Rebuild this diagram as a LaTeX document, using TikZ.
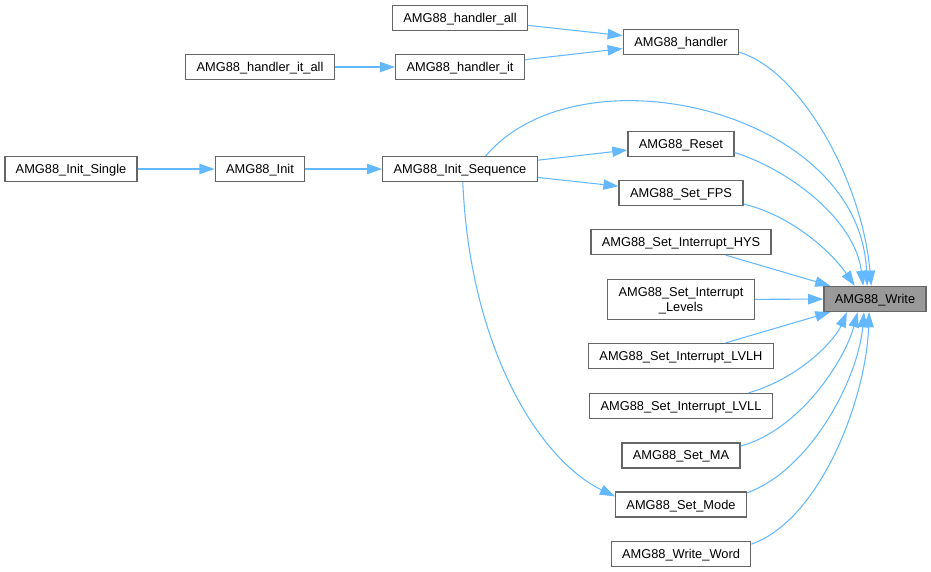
\documentclass[tikz,border=0pt]{standalone}
\usepackage{fontspec}
\setmainfont{Liberation Sans}
\usetikzlibrary{arrows.meta}
\definecolor{edgeblue}{HTML}{63B8FF}
\definecolor{boxgray}{HTML}{666666}
\definecolor{hitgray}{HTML}{999999}

\begin{document}
\begin{tikzpicture}[
  x=0.02cm, y=-0.02cm,
  >={Triangle[length=8.6pt,width=5.9pt]},
  fn/.style={draw=boxgray, fill=white, line width=0.75pt, inner xsep=6.2pt, inner ysep=0pt,
    minimum height=14.2pt, text depth=0pt, font=\fontsize{7.3}{8.5}\selectfont, align=center},
  target/.style={fn, fill=hitgray},
  call/.style={->, draw=edgeblue, line width=0.6pt}
  ]
\useasboundingbox (0,0) rectangle (931,572);
\node [fn] (hall) at (460,18) {AMG88\_handler\_all};
\node [fn] (handler) at (681,42) {AMG88\_handler};
\node [fn] (hitall) at (260,67) {AMG88\_handler\_it\_all};
\node [fn] (hit) at (460,67) {AMG88\_handler\_it};
\node [fn] (single) at (71,169) {AMG88\_Init\_Single};
\node [fn] (init) at (260,169) {AMG88\_Init};
\node [fn] (seq) at (460,169) {AMG88\_Init\_Sequence};
\node [fn] (reset) at (681,144) {AMG88\_Reset};
\node [fn] (fps) at (681,193) {AMG88\_Set\_FPS};
\node [fn] (hys) at (681,242) {AMG88\_Set\_Interrupt\_HYS};
\node [fn, minimum height=22.7pt] (levels) at (681,299.5) {AMG88\_Set\_Interrupt\\\_Levels};
\node [fn] (lvlh) at (681,356) {AMG88\_Set\_Interrupt\_LVLH};
\node [fn] (lvll) at (681,406) {AMG88\_Set\_Interrupt\_LVLL};
\node [fn] (ma) at (681,455.5) {AMG88\_Set\_MA};
\node [fn] (mode) at (681,504.5) {AMG88\_Set\_Mode};
\node [fn] (word) at (681,554) {AMG88\_Write\_Word};
\node [target] (write) at (875,299) {AMG88\_Write};
\draw [call] (hall) -- (handler);
\draw [call] (hit) -- (handler);
\draw [call] (hitall) -- (hit);
\draw [call] (single) -- (init);
\draw [call] (init) -- (seq);
\draw [call] (seq) -- (reset);
\draw [call] (seq) -- (fps);
\draw [call] (seq.27) .. controls (580,45) and (860,110) .. (write.121);
\draw [call] (seq.-78) .. controls (470,350) and (540,460) .. (mode.173);
\draw [call] (handler.-10) .. controls (800,70) and (862,180) .. (write.106);
\draw [call] (reset.-9) .. controls (790,170) and (855,220) .. (write.132);
\draw [call] (fps.-10) .. controls (790,215) and (830,250) .. (write.147);
\draw [call] (hys) -- (write);
\draw [call] (levels) -- (write);
\draw [call] (lvlh) -- (write);
\draw [call] (lvll.11) .. controls (800,378) and (835,340) .. (write.-155);
\draw [call] (ma.9) .. controls (800,430) and (845,360) .. (write.-143);
\draw [call] (mode.10) .. controls (810,470) and (858,380) .. (write.-130);
\draw [call] (word.8) .. controls (820,520) and (866,400) .. (write.-114);
\end{tikzpicture}
\end{document}
